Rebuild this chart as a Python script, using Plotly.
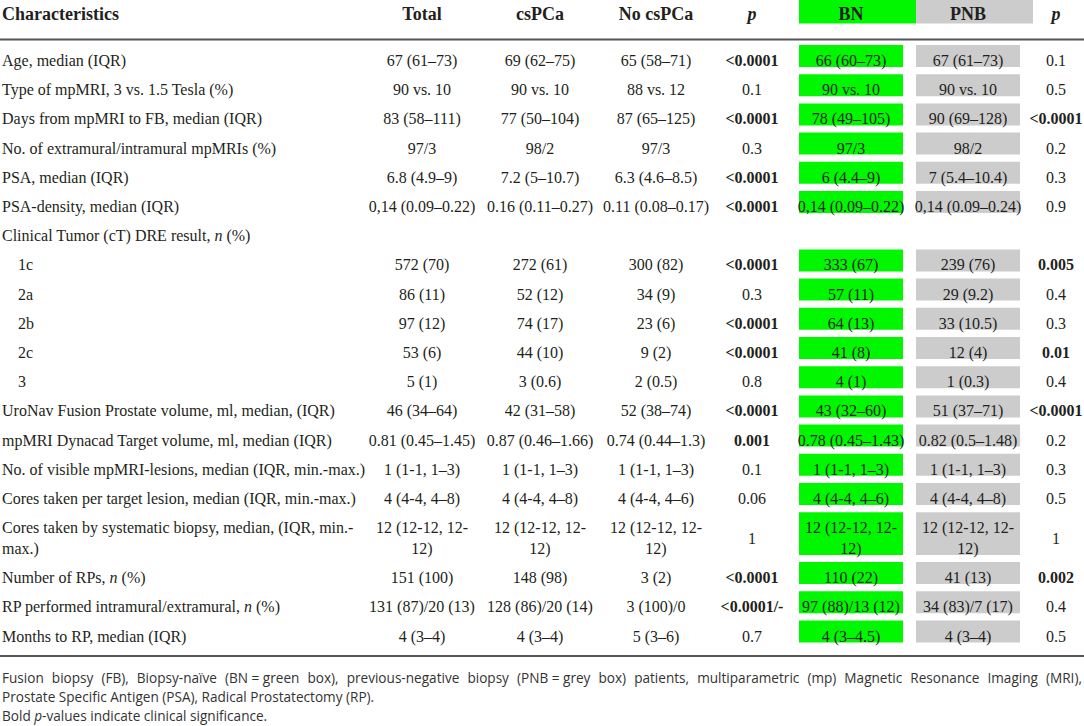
import plotly.graph_objects as go

# table content
characteristics = [
    "Age, median (IQR)",
    "Type of mpMRI, 3 vs. 1.5 Tesla (%)",
    "Days from mpMRI to FB, median (IQR)",
    "No. of extramural/intramural mpMRIs (%)",
    "PSA, median (IQR)",
    "PSA-density, median (IQR)",
    "Clinical Tumor (cT) DRE result, <i>n</i> (%)",
    "1c",
    "2a",
    "2b",
    "2c",
    "3",
    "UroNav Fusion Prostate volume, ml, median, (IQR)",
    "mpMRI Dynacad Target volume, ml, median (IQR)",
    "No. of visible mpMRI-lesions, median (IQR, min.-max.)",
    "Cores taken per target lesion, median (IQR, min.-max.)",
    "Cores taken by systematic biopsy, median, (IQR, min.-<br>max.)",
    "Number of RPs, <i>n</i> (%)",
    "RP performed intramural/extramural, <i>n</i> (%)",
    "Months to RP, median (IQR)",
]
sub_rows = ["1c", "2a", "2b", "2c", "3"]

total = ["67 (61–73)", "90 vs. 10", "83 (58–111)", "97/3", "6.8 (4.9–9)",
         "0,14 (0.09–0.22)", "", "572 (70)", "86 (11)", "97 (12)", "53 (6)",
         "5 (1)", "46 (34–64)", "0.81 (0.45–1.45)", "1 (1-1, 1–3)",
         "4 (4-4, 4–8)", "12 (12-12, 12-<br>12)", "151 (100)",
         "131 (87)/20 (13)", "4 (3–4)"]
cspca = ["69 (62–75)", "90 vs. 10", "77 (50–104)", "98/2", "7.2 (5–10.7)",
         "0.16 (0.11–0.27)", "", "272 (61)", "52 (12)", "74 (17)", "44 (10)",
         "3 (0.6)", "42 (31–58)", "0.87 (0.46–1.66)", "1 (1-1, 1–3)",
         "4 (4-4, 4–8)", "12 (12-12, 12-<br>12)", "148 (98)",
         "128 (86)/20 (14)", "4 (3–4)"]
no_cspca = ["65 (58–71)", "88 vs. 12", "87 (65–125)", "97/3", "6.3 (4.6–8.5)",
            "0.11 (0.08–0.17)", "", "300 (82)", "34 (9)", "23 (6)", "9 (2)",
            "2 (0.5)", "52 (38–74)", "0.74 (0.44–1.3)", "1 (1-1, 1–3)",
            "4 (4-4, 4–6)", "12 (12-12, 12-<br>12)", "3 (2)", "3 (100)/0",
            "5 (3–6)"]
p_cspca = ["<0.0001", "0.1", "<0.0001", "0.3", "<0.0001", "<0.0001", "",
           "<0.0001", "0.3", "<0.0001", "<0.0001", "0.8", "<0.0001", "0.001",
           "0.1", "0.06", "1", "<0.0001", "<0.0001/-", "0.7"]
p_cspca_bold = [1, 0, 1, 0, 1, 1, 0, 1, 0, 1, 1, 0, 1, 1, 0, 0, 0, 1, 1, 0]
bn = ["66 (60–73)", "90 vs. 10", "78 (49–105)", "97/3", "6 (4.4–9)",
      "0,14 (0.09–0.22)", "", "333 (67)", "57 (11)", "64 (13)", "41 (8)",
      "4 (1)", "43 (32–60)", "0.78 (0.45–1.43)", "1 (1-1, 1–3)",
      "4 (4-4, 4–6)", "12 (12-12, 12-<br>12)", "110 (22)",
      "97 (88)/13 (12)", "4 (3–4.5)"]
pnb = ["67 (61–73)", "90 vs. 10", "90 (69–128)", "98/2", "7 (5.4–10.4)",
       "0,14 (0.09–0.24)", "", "239 (76)", "29 (9.2)", "33 (10.5)", "12 (4)",
       "1 (0.3)", "51 (37–71)", "0.82 (0.5–1.48)", "1 (1-1, 1–3)",
       "4 (4-4, 4–8)", "12 (12-12, 12-<br>12)", "41 (13)", "34 (83)/7 (17)",
       "4 (3–4)"]
p_bn = ["0.1", "0.5", "<0.0001", "0.2", "0.3", "0.9", "", "0.005", "0.4",
        "0.3", "0.01", "0.4", "<0.0001", "0.2", "0.3", "0.5", "1", "0.002",
        "0.4", "0.5"]
p_bn_bold = [0, 0, 1, 0, 0, 0, 0, 1, 0, 0, 1, 0, 1, 0, 0, 0, 0, 1, 0, 0]

headers = ["Characteristics", "Total", "csPCa", "No csPCa", "<i>p</i>",
           "BN", "PNB", "<i>p</i>"]

footnotes = [
    "Fusion biopsy (FB), Biopsy-naïve (BN = green box), previous-negative biopsy (PNB = grey box) patients, multiparametric (mp) Magnetic Resonance Imaging (MRI),",
    "Prostate Specific Antigen (PSA), Radical Prostatectomy (RP).",
    "Bold <i>p</i>-values indicate clinical significance.",
]

# layout (pixels)
W, H = 1084, 726
col_x = [2, 422, 540, 656, 752, 851, 968, 1056]
GREEN = "#00f700"
GREY = "#cccccc"
INK = "#231f20"
SERIF = "Liberation Serif"
ROW0, PITCH, LINE = 62, 29.2, 20.7

# row centres, taller rows for wrapped text
nlines = [c.count("<br>") + 1 for c in characteristics]
centres = []
pos = 0.0
for i, n in enumerate(nlines):
    if i > 0:
        pos += PITCH + (nlines[i - 1] - 1) * LINE / 2 + (n - 1) * LINE / 2
    centres.append(ROW0 + pos)

labels = ["\u00a0" * 4 + c if c in sub_rows else c for c in characteristics]


def bold(vals, flags):
    return [f"<b>{v}</b>" if f else v for v, f in zip(vals, flags)]


def justify(line):
    # widen word gaps so the first footnote line fills the width
    out = line.replace(" = ", "\u0000").replace(" ", " \u2004")
    return out.replace("\u0000", " = ")


fig = go.Figure()

# coloured boxes behind BN / PNB values
shapes = []
for y, n, v in zip(centres, nlines, bn):
    if not v:
        continue
    top = y - (n - 1) * LINE / 2 - 17
    bot = y + (n - 1) * LINE / 2 + 5
    shapes.append(dict(type="rect", x0=799, x1=903, y0=top, y1=bot,
                       fillcolor=GREEN, line_width=0, layer="below"))
    shapes.append(dict(type="rect", x0=916, x1=1020, y0=top, y1=bot,
                       fillcolor=GREY, line_width=0, layer="below"))
shapes.append(dict(type="rect", x0=799, x1=916, y0=0, y1=23.5,
                   fillcolor=GREEN, line_width=0, layer="below"))
shapes.append(dict(type="rect", x0=916, x1=1033, y0=0, y1=23.5,
                   fillcolor=GREY, line_width=0, layer="below"))
shapes.append(dict(type="line", x0=0, x1=W, y0=39.5, y1=39.5,
                   line=dict(color="#555555", width=2)))
shapes.append(dict(type="line", x0=0, x1=W, y0=656, y1=656,
                   line=dict(color="#555555", width=2)))

fig.add_trace(go.Scatter(
    x=[col_x[0]] * len(labels), y=centres, text=labels, mode="text",
    textposition="middle right", hoverinfo="skip", cliponaxis=False,
    textfont=dict(family=SERIF, size=16, color=INK)))

columns = [total, cspca, no_cspca, bold(p_cspca, p_cspca_bold), bn, pnb,
           bold(p_bn, p_bn_bold)]
for cx, vals in zip(col_x[1:], columns):
    fig.add_trace(go.Scatter(
        x=[cx] * len(vals), y=centres, text=vals, mode="text",
        textposition="middle center", hoverinfo="skip", cliponaxis=False,
        textfont=dict(family=SERIF, size=16, color=INK)))

# header row
fig.add_trace(go.Scatter(
    x=[col_x[0]], y=[15], text=[f"<b>{headers[0]}</b>"], mode="text",
    textposition="middle right", hoverinfo="skip", cliponaxis=False,
    textfont=dict(family=SERIF, size=18, color=INK)))
fig.add_trace(go.Scatter(
    x=col_x[1:], y=[15] * 7, text=[f"<b>{h}</b>" for h in headers[1:]],
    mode="text", textposition="middle center", hoverinfo="skip",
    cliponaxis=False, textfont=dict(family=SERIF, size=18, color=INK)))

annotations = []
for i, (t, y) in enumerate(zip(footnotes, [677, 696, 715])):
    annotations.append(dict(
        x=0, y=y, xref="x", yref="y", text=justify(t) if i == 0 else t,
        showarrow=False, xanchor="left", yanchor="middle",
        font=dict(family="Open Sans", size=13.6, color="#333333")))

fig.update_layout(
    width=W, height=H, margin=dict(l=0, r=0, t=0, b=0),
    paper_bgcolor="white", plot_bgcolor="white", showlegend=False,
    shapes=shapes, annotations=annotations,
    xaxis=dict(range=[0, W], visible=False, fixedrange=True),
    yaxis=dict(range=[H, 0], visible=False, fixedrange=True),
)

fig.write_html("out.html", config={"displayModeBar": False},
               post_script="document.body.style.margin='0';"
                           "document.body.style.overflow='hidden';")
